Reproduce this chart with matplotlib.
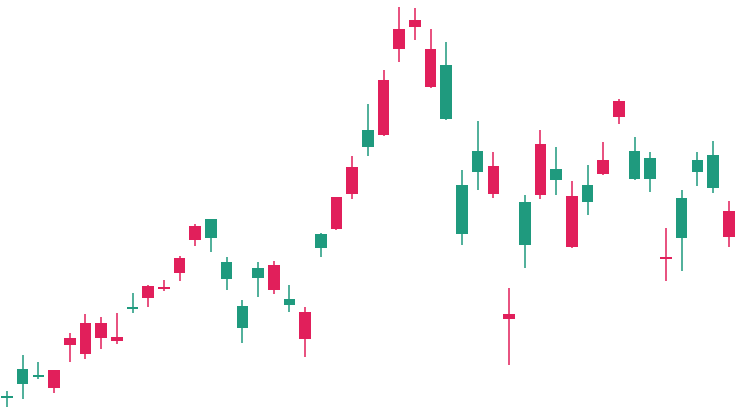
import numpy as np
import matplotlib
matplotlib.use('Agg')
import matplotlib.pyplot as plt

# OHLC (arbitrary price units, no axis shown)
opens = [14, 28, 35, 42, 74, 89, 89, 75, 103, 126, 125.5, 154, 186, 174, 133, 84,
         134, 147, 107, 100, 164, 215, 245, 265, 332, 383, 392, 363, 293, 178, 240,
         246, 98, 167, 268, 232, 216, 210, 252, 311, 233, 233, 155.5, 174, 240, 224, 201]
closes = [16, 43, 37.5, 24, 67, 58, 74, 71, 105.5, 114, 123.5, 139, 172, 193, 150, 106,
          144, 122, 113, 73, 178, 183, 218, 282, 277, 363, 385, 325, 347, 227, 261,
          218, 93, 210, 217, 243, 165, 227, 238, 295, 261, 254, 153, 214, 252, 257, 175]
highs = [21, 57, 50, 42, 79, 98, 95, 99, 119, 127, 132, 156, 188, 193, 155, 112,
         150, 151, 127, 105, 179, 215, 256, 308, 342, 405, 404, 383, 370, 242, 291,
         260, 124, 217, 282, 265, 231, 247, 270, 313, 275, 260, 184, 222, 260, 271, 211]
lows = [5, 13, 33, 19, 50, 53, 63, 68, 99, 105, 121, 131, 166, 160, 122, 69,
        115, 118, 100, 55, 155, 182, 213, 256, 276, 350, 372, 324, 292, 167, 222,
        214, 47, 144, 213, 217, 164, 197, 237, 288, 232, 220, 131, 141, 226, 219, 165]

up_color = '#1f9a7e'
down_color = '#e11f5b'

o = np.array(opens)
c = np.array(closes)
h = np.array(highs)
l = np.array(lows)
x = np.arange(len(o))
colors = [up_color if cc >= oo else down_color for oo, cc in zip(o, c)]

fig = plt.figure(figsize=(7.4, 4.12), dpi=100)
ax = fig.add_axes([0, 0, 1, 1])

ax.vlines(x, l, h, colors=colors, linewidth=1.1, zorder=1)
bottom = np.minimum(o, c)
height = np.maximum(np.abs(c - o), 1.5)
ax.bar(x, height, bottom=bottom, width=0.74, color=colors, linewidth=0, zorder=2)

ax.set_xlim(-0.446, 46.72)
ax.set_ylim(0, 412)
ax.axis('off')

fig.savefig('out.png', dpi=100, facecolor='white')
